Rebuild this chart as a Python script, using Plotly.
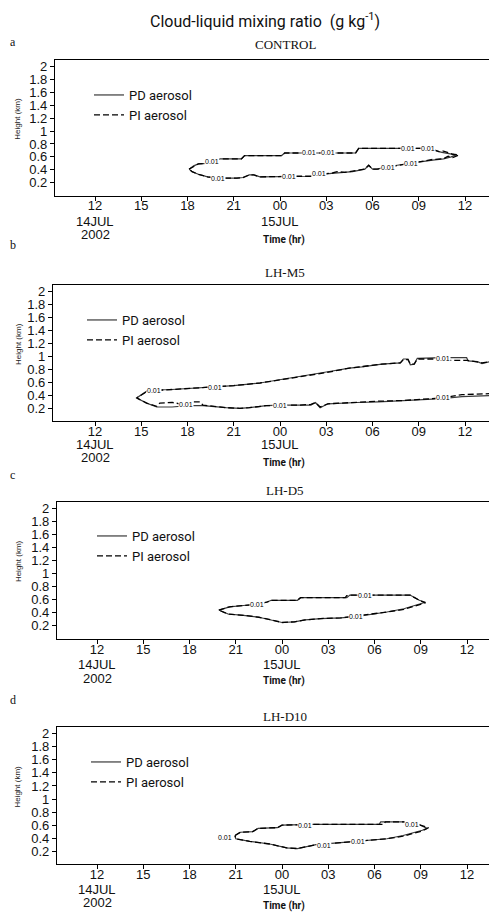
import plotly.graph_objects as go

# ---------------------------------------------------------------------------
# Axis ticks (time in hours after 12 UTC 14 JUL 2002, height in km)
# ---------------------------------------------------------------------------
tick_hours = [0, 3, 6, 9, 12, 15, 18, 21, 24]
tick_text = ["12", "15", "18", "21", "00", "03", "06", "09", "12"]
height_ticks = [0.2, 0.4, 0.6, 0.8, 1.0, 1.2, 1.4, 1.6, 1.8, 2.0]
height_text = ["0.2", "0.4", "0.6", "0.8", "1", "1.2", "1.4", "1.6", "1.8", "2"]
day_labels = ["14JUL", "15JUL"]
day_label_hours = [0, 12]
year_label = "2002"

panel_letters = ["a", "b", "c", "d"]
panel_names = ["CONTROL", "LH-M5", "LH-D5", "LH-D10"]
contour_level = "0.01"

# ---------------------------------------------------------------------------
# 0.01 g/kg cloud-liquid contours, (hour, km) along the outline
# ---------------------------------------------------------------------------
# CONTROL
control_pd_hours = [6.1, 6.4, 6.7, 7.3, 7.8, 8.1, 9.5, 9.7, 12.1, 12.3, 16.9, 17.1, 21.7, 22.0, 22.5, 22.9, 23.4,
                    23.1, 22.6, 21.9, 21.2, 20.4, 19.6, 19.0, 18.3, 18.0, 17.75, 17.5, 16.7, 16.0, 15.4, 14.6, 14.0,
                    13.0, 11.5, 10.7, 10.3, 10.0, 9.6, 9.2, 8.0, 7.3, 6.7, 6.3, 6.1]
control_pd_km = [0.41, 0.46, 0.49, 0.50, 0.53, 0.57, 0.57, 0.62, 0.62, 0.66, 0.66, 0.73, 0.73, 0.70, 0.67, 0.65, 0.63,
                 0.60, 0.57, 0.55, 0.53, 0.50, 0.47, 0.45, 0.41, 0.41, 0.47, 0.41, 0.37, 0.36, 0.35, 0.33, 0.30,
                 0.30, 0.30, 0.29, 0.32, 0.32, 0.28, 0.27, 0.27, 0.29, 0.33, 0.37, 0.41]
control_pi_hours = [6.1, 6.4, 6.7, 7.3, 7.8, 8.1, 9.5, 9.7, 12.1, 12.3, 16.9, 17.1, 21.7, 22.0, 22.3, 22.6, 22.9,
                    23.2, 23.6, 23.2, 22.9, 22.6, 21.9, 21.2, 20.4, 19.6, 19.0, 18.3, 18.0, 17.75, 17.5, 16.7, 16.2,
                    15.7, 15.4, 14.6, 14.0, 13.0, 11.5, 10.7, 10.3, 10.0, 9.6, 9.2, 8.0, 7.3, 6.7, 6.3, 6.1]
control_pi_km = [0.41, 0.45, 0.49, 0.50, 0.53, 0.57, 0.57, 0.62, 0.62, 0.66, 0.66, 0.73, 0.73, 0.71, 0.68, 0.69, 0.66,
                 0.64, 0.63, 0.59, 0.61, 0.57, 0.56, 0.53, 0.50, 0.47, 0.44, 0.41, 0.41, 0.47, 0.41, 0.38, 0.36,
                 0.37, 0.35, 0.33, 0.30, 0.30, 0.30, 0.29, 0.32, 0.32, 0.28, 0.27, 0.27, 0.29, 0.33, 0.37, 0.41]
control_label_hours = [7.6, 13.9, 15.1, 20.3, 21.6, 8.0, 12.6, 14.5, 19.0, 20.5]
control_label_km = [0.53, 0.66, 0.67, 0.73, 0.73, 0.27, 0.30, 0.34, 0.44, 0.49]

# LH-M5
lhm5_pd_hours = [26.0, 25.6, 25.1, 24.8, 24.2, 24.1, 22.5, 20.9, 20.7, 20.45, 20.3, 20.0, 19.8, 18.6, 17.3, 16.5,
                 15.0, 13.3, 12.0, 10.7, 9.0, 7.2, 5.0, 3.45, 3.1, 2.7,
                 3.35, 4.0, 5.0, 6.0, 7.0, 7.9, 8.5, 9.4, 10.0, 11.1, 12.0, 13.3, 14.0, 14.3, 14.6, 15.1, 15.8,
                 17.0, 18.4, 20.0, 21.6, 22.5, 23.8, 24.5, 25.6, 26.0]
lhm5_pd_km = [0.92, 0.92, 0.89, 0.92, 0.93, 0.98, 0.98, 0.97, 0.88, 0.87, 0.96, 0.96, 0.90, 0.88, 0.84, 0.82,
              0.76, 0.69, 0.64, 0.59, 0.55, 0.52, 0.49, 0.48, 0.42, 0.36,
              0.28, 0.22, 0.22, 0.24, 0.24, 0.22, 0.21, 0.20, 0.21, 0.24, 0.25, 0.25, 0.25, 0.29, 0.21, 0.27, 0.28,
              0.29, 0.30, 0.32, 0.34, 0.35, 0.38, 0.39, 0.40, 0.40]
lhm5_pi_hours = [26.0, 25.6, 25.1, 24.4, 24.1, 23.0, 22.5, 20.9, 20.7, 20.45, 20.3, 20.0, 19.8, 18.6, 17.3, 16.5,
                 15.0, 13.3, 12.0, 10.7, 9.0, 7.2, 5.0, 3.45, 3.1, 2.7,
                 3.35, 4.0, 4.2, 5.0, 5.5, 6.0, 6.4, 6.8, 7.0, 7.9, 8.5, 9.4, 10.0, 11.1, 12.0, 13.3, 14.0, 14.3,
                 14.6, 15.1, 15.8, 17.0, 18.4, 20.0, 21.6, 22.5, 23.8, 24.5, 25.6, 26.0]
lhm5_pi_km = [0.92, 0.92, 0.90, 0.93, 0.94, 0.94, 0.96, 0.96, 0.88, 0.88, 0.95, 0.95, 0.90, 0.88, 0.84, 0.82,
              0.75, 0.69, 0.64, 0.59, 0.55, 0.52, 0.49, 0.47, 0.42, 0.36,
              0.28, 0.23, 0.28, 0.29, 0.27, 0.25, 0.30, 0.30, 0.25, 0.22, 0.21, 0.20, 0.21, 0.24, 0.25, 0.25, 0.26,
              0.29, 0.22, 0.27, 0.28, 0.29, 0.31, 0.32, 0.35, 0.36, 0.41, 0.42, 0.43, 0.43]
lhm5_label_hours = [3.8, 7.8, 22.6, 5.9, 12.0, 22.6]
lhm5_label_km = [0.48, 0.525, 0.975, 0.255, 0.25, 0.36]

# LH-D5
lhd5_pd_hours = [7.9, 8.3, 8.6, 9.5, 10.4, 11.0, 11.3, 13.0, 13.2, 16.2, 16.4, 20.3, 20.6, 20.9, 21.3,
                 21.0, 20.5, 19.9, 18.8, 17.6, 16.8, 15.8, 14.5, 13.5, 12.8, 12.0, 11.3, 10.5, 9.5, 8.5, 8.2, 7.9]
lhd5_pd_km = [0.44, 0.47, 0.49, 0.51, 0.53, 0.56, 0.59, 0.59, 0.63, 0.63, 0.67, 0.67, 0.63, 0.59, 0.56,
              0.54, 0.50, 0.46, 0.41, 0.37, 0.34, 0.32, 0.31, 0.29, 0.26, 0.25, 0.29, 0.33, 0.36, 0.38, 0.41, 0.44]
lhd5_pi_hours = [7.9, 8.3, 8.6, 9.5, 10.4, 11.0, 11.3, 13.0, 13.2, 16.1, 16.2, 16.4, 20.3, 20.6, 20.9, 21.3,
                 21.0, 20.5, 19.9, 18.8, 17.6, 16.8, 15.8, 14.5, 13.5, 12.8, 12.0, 11.3, 10.5, 9.5, 8.5, 8.2, 7.9]
lhd5_pi_km = [0.44, 0.47, 0.49, 0.51, 0.53, 0.56, 0.59, 0.59, 0.63, 0.63, 0.66, 0.67, 0.67, 0.63, 0.59, 0.55,
              0.53, 0.49, 0.45, 0.41, 0.37, 0.345, 0.32, 0.31, 0.29, 0.26, 0.25, 0.29, 0.33, 0.36, 0.38, 0.41, 0.44]
lhd5_label_hours = [10.4, 17.4, 16.8]
lhd5_label_km = [0.53, 0.665, 0.345]

# LH-D10
lhd10_pd_hours = [8.95, 9.3, 10.1, 10.45, 11.7, 12.0, 14.0, 18.3, 18.4, 20.4, 20.8, 21.4,
                  21.1, 20.5, 19.85, 18.8, 17.5, 15.8, 14.2, 13.6, 13.0, 12.3, 11.2, 9.9, 9.0, 8.95]
lhd10_pd_km = [0.44, 0.49, 0.50, 0.55, 0.56, 0.60, 0.61, 0.61, 0.65, 0.65, 0.62, 0.55,
               0.52, 0.48, 0.44, 0.39, 0.36, 0.33, 0.30, 0.27, 0.24, 0.25, 0.31, 0.35, 0.39, 0.44]
lhd10_pi_hours = [8.95, 9.3, 10.1, 10.45, 11.7, 12.0, 14.0, 18.6, 18.7, 20.4, 20.8, 21.5,
                  21.1, 20.5, 19.85, 18.8, 17.5, 15.8, 14.2, 13.6, 13.0, 12.3, 11.2, 9.9, 9.0, 8.95]
lhd10_pi_km = [0.44, 0.49, 0.50, 0.55, 0.56, 0.60, 0.61, 0.61, 0.65, 0.65, 0.61, 0.56,
               0.51, 0.47, 0.43, 0.39, 0.36, 0.33, 0.30, 0.27, 0.24, 0.25, 0.31, 0.35, 0.39, 0.44]
lhd10_label_hours = [8.3, 13.5, 20.4, 14.7, 16.9]
lhd10_label_km = [0.41, 0.60, 0.61, 0.285, 0.355]

panel_pd = [(control_pd_hours, control_pd_km), (lhm5_pd_hours, lhm5_pd_km),
            (lhd5_pd_hours, lhd5_pd_km), (lhd10_pd_hours, lhd10_pd_km)]
panel_pi = [(control_pi_hours, control_pi_km), (lhm5_pi_hours, lhm5_pi_km),
            (lhd5_pi_hours, lhd5_pi_km), (lhd10_pi_hours, lhd10_pi_km)]
panel_labels = [(control_label_hours, control_label_km), (lhm5_label_hours, lhm5_label_km),
                (lhd5_label_hours, lhd5_label_km), (lhd10_label_hours, lhd10_label_km)]

# ---------------------------------------------------------------------------
# Page geometry (pixels)
# ---------------------------------------------------------------------------
W, H = 489, 913
frame_left = [55, 53, 57, 57]
frame_top = [60, 285, 501.7, 727.3]
frame_bottom = [195.6, 421.3, 638.8, 864.2]
hour0_px = [95, 95, 97, 97]
px_per_hour = 15.42
km_top = 2.1
letter_y = [42, 245, 475, 700]
name_y = [45, 272, 490, 716]
daylabel_y = [221, 444, 664, 889]
year_y = [235, 457, 678, 902]
timelabel_y = [240, 463, 681, 906]
legend_left = [89, 82, 92, 86]
legend_top = [80, 305, 521, 747]

SANS = "Liberation Sans, Arial, sans-serif"
SERIF = "Liberation Serif, Times New Roman, serif"
MYRIAD = "Roboto, Open Sans, sans-serif"

PD_COLOR = "#3a3a3a"
PI_COLOR = "#000000"


def py(px):
    return 1 - px / H


fig = go.Figure()
annotations = []
layout_axes = {}

for i in range(4):
    sfx = "" if i == 0 else str(i + 1)
    xname, yname = "x" + sfx, "y" + sfx
    legname = "legend" + sfx

    pd_h, pd_km = panel_pd[i]
    pi_h, pi_km = panel_pi[i]
    fig.add_trace(go.Scatter(x=pd_h, y=pd_km, mode="lines", name="PD aerosol",
                             line=dict(color=PD_COLOR, width=1.2), xaxis=xname, yaxis=yname,
                             legend=legname, showlegend=True, hoverinfo="skip"))
    fig.add_trace(go.Scatter(x=pi_h, y=pi_km, mode="lines", name="PI aerosol",
                             line=dict(color=PI_COLOR, width=1.3, dash="6px,3px"), xaxis=xname, yaxis=yname,
                             legend=legname, showlegend=True, hoverinfo="skip"))

    # contour value labels
    lab_h, lab_km = panel_labels[i]
    for hh, kk in zip(lab_h, lab_km):
        annotations.append(dict(x=hh, y=kk, xref=xname, yref=yname, text=contour_level, showarrow=False,
                                font=dict(family=SANS, size=7, color="black"), bgcolor="white", borderpad=0))

    x_lo = (frame_left[i] - hour0_px[i]) / px_per_hour
    x_hi = (W - hour0_px[i]) / px_per_hour
    layout_axes["xaxis" + sfx] = dict(
        domain=[frame_left[i] / W, 1.0], range=[x_lo, x_hi], anchor=yname,
        tickmode="array", tickvals=tick_hours, ticktext=tick_text,
        showline=True, mirror=True, linecolor="black", linewidth=1.2,
        ticks="outside", ticklen=4, tickcolor="black", showgrid=False, zeroline=False,
        ticklabelstandoff=-6,
        tickfont=dict(family=SANS, size=13, color="#111"), fixedrange=True,
    )
    layout_axes["yaxis" + sfx] = dict(
        domain=[py(frame_bottom[i]), py(frame_top[i])], range=[0, km_top], anchor=xname,
        tickmode="array", tickvals=height_ticks, ticktext=height_text,
        showline=True, mirror=False, linecolor="black", linewidth=1.2,
        ticks="outside", ticklen=4, tickcolor="black", showgrid=False, zeroline=False,
        tickfont=dict(family=SANS, size=13, color="#111"), fixedrange=True,
    )
    layout_axes[legname] = dict(
        x=legend_left[i] / W, y=py(legend_top[i]), xanchor="left", yanchor="top",
        bgcolor="rgba(0,0,0,0)", borderwidth=0, font=dict(family=MYRIAD, size=13, color="#111"),
        tracegroupgap=0,
    )

    # panel letter and experiment name
    annotations.append(dict(x=8 / W, y=py(letter_y[i]), xref="paper", yref="paper", text=panel_letters[i],
                            showarrow=False, xanchor="left", yanchor="middle",
                            font=dict(family=SERIF, size=12, color="#111")))
    annotations.append(dict(x=285 / W, y=py(name_y[i]), xref="paper", yref="paper", text=panel_names[i],
                            showarrow=False, xanchor="center", yanchor="middle",
                            font=dict(family=SERIF, size=13, color="#111")))
    # axis titles
    annotations.append(dict(x=18 / W, y=(py(frame_bottom[i]) + py(frame_top[i])) / 2 + 0.01, xref="paper",
                            yref="paper", text="Height (km)", textangle=-90, showarrow=False,
                            xanchor="center", yanchor="middle", font=dict(family=SANS, size=8, color="#222")))
    annotations.append(dict(x=284 / W, y=py(timelabel_y[i]), xref="paper", yref="paper", text="<b>Time (hr)</b>",
                            showarrow=False, xanchor="center", yanchor="middle",
                            font=dict(family=MYRIAD, size=10, color="#111")))
    # date lines under the 12 and 00 ticks
    for dh, dl in zip(day_label_hours, day_labels):
        annotations.append(dict(x=dh, y=py(daylabel_y[i]), xref=xname, yref="paper", text=dl, showarrow=False,
                                xanchor="center", yanchor="middle", font=dict(family=SANS, size=13, color="#111")))
    annotations.append(dict(x=day_label_hours[0], y=py(year_y[i]), xref=xname, yref="paper", text=year_label,
                            showarrow=False, xanchor="center", yanchor="middle",
                            font=dict(family=SANS, size=13, color="#111")))

annotations.append(dict(x=265 / W, y=py(20), xref="paper", yref="paper",
                        text="Cloud-liquid mixing ratio  (g kg<sup>-1</sup>)", showarrow=False,
                        xanchor="center", yanchor="middle", font=dict(family=MYRIAD, size=16, color="#111")))

fig.update_layout(
    width=W, height=H, margin=dict(l=0, r=0, t=0, b=0),
    paper_bgcolor="white", plot_bgcolor="white",
    annotations=annotations, **layout_axes,
)

fig.write_html("out.html")
